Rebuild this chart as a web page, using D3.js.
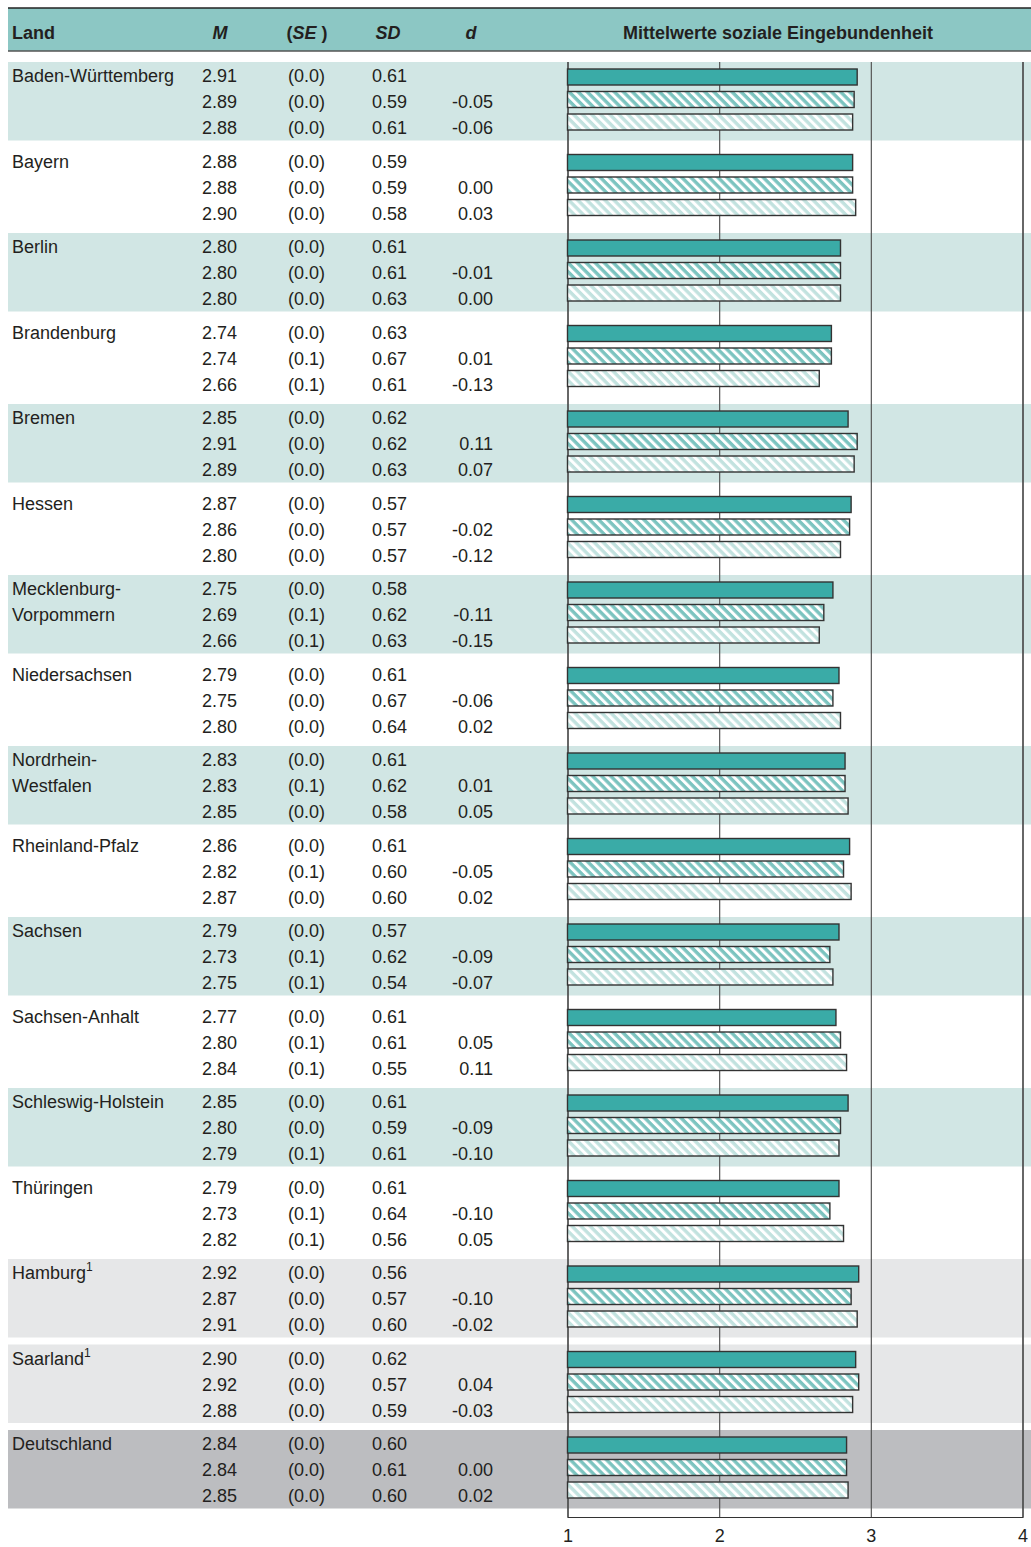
<!DOCTYPE html>
<html><head><meta charset="utf-8">
<script src="https://cdn.jsdelivr.net/npm/d3@7"></script>
<style>
html,body{margin:0;padding:0;background:#fff;}
svg{display:block;font-family:"Liberation Sans",Arial,sans-serif;}
</style></head>
<body>
<svg id="chart" width="1031" height="1547"></svg>
<script>
// ---- data ----
const lands = ["Baden-Württemberg","Bayern","Berlin","Brandenburg","Bremen","Hessen","Mecklenburg-\nVorpommern","Niedersachsen","Nordrhein-\nWestfalen","Rheinland-Pfalz","Sachsen","Sachsen-Anhalt","Schleswig-Holstein","Thüringen","Hamburg","Saarland","Deutschland"];
const footnotes = ["","","","","","","","","","","","","","","1","1",""];
const bandType = ["a","w","a","w","a","w","a","w","a","w","a","w","a","w","g","g","d"];
const meanA = [2.91,2.88,2.80,2.74,2.85,2.87,2.75,2.79,2.83,2.86,2.79,2.77,2.85,2.79,2.92,2.90,2.84];
const meanB = [2.89,2.88,2.80,2.74,2.91,2.86,2.69,2.75,2.83,2.82,2.73,2.80,2.80,2.73,2.87,2.92,2.84];
const meanC = [2.88,2.90,2.80,2.66,2.89,2.80,2.66,2.80,2.85,2.87,2.75,2.84,2.79,2.82,2.91,2.88,2.85];
const seA = [0.0,0.0,0.0,0.0,0.0,0.0,0.0,0.0,0.0,0.0,0.0,0.0,0.0,0.0,0.0,0.0,0.0];
const seB = [0.0,0.0,0.0,0.1,0.0,0.0,0.1,0.0,0.1,0.1,0.1,0.1,0.0,0.1,0.0,0.0,0.0];
const seC = [0.0,0.0,0.0,0.1,0.0,0.0,0.1,0.0,0.0,0.0,0.1,0.1,0.1,0.1,0.0,0.0,0.0];
const sdA = [0.61,0.59,0.61,0.63,0.62,0.57,0.58,0.61,0.61,0.61,0.57,0.61,0.61,0.61,0.56,0.62,0.60];
const sdB = [0.59,0.59,0.61,0.67,0.62,0.57,0.62,0.67,0.62,0.60,0.62,0.61,0.59,0.64,0.57,0.57,0.61];
const sdC = [0.61,0.58,0.63,0.61,0.63,0.57,0.63,0.64,0.58,0.60,0.54,0.55,0.61,0.56,0.60,0.59,0.60];
const dB = [-0.05,0.00,-0.01,0.01,0.11,-0.02,-0.11,-0.06,0.01,-0.05,-0.09,0.05,-0.09,-0.10,-0.10,0.04,0.00];
const dC = [-0.06,0.03,0.00,-0.13,0.07,-0.12,-0.15,0.02,0.05,0.02,-0.07,0.11,-0.10,0.05,-0.02,-0.03,0.02];
const xTicks = [1,2,3,4];
const headers = ["Land","M","SE","SD","d"];
const title = "Mittelwerte soziale Eingebundenheit";

// ---- layout ----
const svg = d3.select("#chart");
const FS = 18;
const bandColor = {a:"#d1e6e4", w:"#ffffff", g:"#e6e7e8", d:"#bcbdc0"};
const x = d3.scaleLinear().domain([1,4]).range([567.5,1022.5]);
const y = d3.scaleLinear().domain([0,lands.length]).range([62, 62 + lands.length*85.5]);
const bandH = 78.5;
const axisY = 1517;

// patterns
const defs = svg.append("defs");
function hatch(id, color){
  const p = defs.append("pattern").attr("id",id).attr("patternUnits","userSpaceOnUse")
    .attr("width",6.4).attr("height",6.4).attr("patternTransform","rotate(45)");
  p.append("rect").attr("width",6.4).attr("height",6.4).attr("fill","#fff");
  p.append("rect").attr("width",6.4).attr("height",3.4).attr("fill",color);
}
hatch("h1","#7cc4c0");
hatch("h2","#c2e2df");

// header
svg.append("rect").attr("x",8).attr("y",8).attr("width",1023).attr("height",43).attr("fill","#8cc7c4");
svg.append("line").attr("x1",8).attr("x2",1031).attr("y1",8).attr("y2",8).attr("stroke","#222").attr("stroke-width",1.5);
svg.append("line").attr("x1",8).attr("x2",1031).attr("y1",51).attr("y2",51).attr("stroke","#555").attr("stroke-width",1.5);
const hy = 39;
const hg = svg.append("g").attr("font-weight","bold").attr("font-size",FS).attr("fill","#231f20");
hg.append("text").attr("x",12).attr("y",hy).text(headers[0]);
hg.append("text").attr("x",220).attr("y",hy).attr("text-anchor","middle").attr("font-style","italic").text(headers[1]);
const seT = hg.append("text").attr("x",307).attr("y",hy).attr("text-anchor","middle");
seT.append("tspan").text("(");
seT.append("tspan").attr("font-style","italic").text(headers[2]+" ");
seT.append("tspan").text(")");
hg.append("text").attr("x",388).attr("y",hy).attr("text-anchor","middle").attr("font-style","italic").text(headers[3]);
hg.append("text").attr("x",471).attr("y",hy).attr("text-anchor","middle").attr("font-style","italic").text(headers[4]);
hg.append("text").attr("x",778).attr("y",hy).attr("text-anchor","middle").text(title);

// bands
svg.append("g").selectAll("rect").data(lands).join("rect")
  .attr("x",8).attr("width",1023)
  .attr("y",(d,i)=>y(i)).attr("height",bandH)
  .attr("fill",(d,i)=>bandColor[bandType[i]]);

// axis with gridlines
const axis = d3.axisBottom(x).tickValues(xTicks).tickFormat(d3.format("d"))
  .tickSize(-(axisY-62)).tickPadding(12);
const ag = svg.append("g").attr("transform",`translate(0,${axisY})`).call(axis);
ag.select(".domain").attr("stroke","#333").attr("stroke-width",1.2);
ag.selectAll(".tick line").attr("stroke","#555").attr("stroke-width",1.2);
ag.selectAll(".tick text").attr("font-size",FS).attr("fill","#231f20")
  .attr("font-family","'Liberation Sans',Arial,sans-serif");

// bars
const series = [
  {vals:meanA, off:7, fill:"#3aaba7"},
  {vals:meanB, off:29.5, fill:"url(#h1)"},
  {vals:meanC, off:52, fill:"url(#h2)"}
];
const bg = svg.append("g");
series.forEach(s=>{
  bg.append("g").selectAll("rect").data(s.vals).join("rect")
    .attr("x",x(1)).attr("y",(d,i)=>y(i)+s.off)
    .attr("width",d=>x(d)-x(1)).attr("height",16)
    .attr("fill",s.fill).attr("stroke","#333").attr("stroke-width",1.4);
});

// table text
const tg = svg.append("g").attr("font-size",FS).attr("fill","#231f20");
const rowOff = [20,46,72];
lands.forEach((name,i)=>{
  const lines = name.split("\n");
  lines.forEach((ln,k)=>{
    const t = tg.append("text").attr("x",12).attr("y",y(i)+rowOff[k]).text(ln);
    if(k===lines.length-1 && footnotes[i]){
      t.append("tspan").attr("font-size",12).attr("dy",-8).text(footnotes[i]);
    }
  });
  const Ms=[meanA[i],meanB[i],meanC[i]], SEs=[seA[i],seB[i],seC[i]], SDs=[sdA[i],sdB[i],sdC[i]], Ds=[null,dB[i],dC[i]];
  for(let r=0;r<3;r++){
    const yy = y(i)+rowOff[r];
    tg.append("text").attr("x",237).attr("y",yy).attr("text-anchor","end").text(Ms[r].toFixed(2));
    tg.append("text").attr("x",288).attr("y",yy).text("("+SEs[r].toFixed(1)+")");
    tg.append("text").attr("x",372).attr("y",yy).text(SDs[r].toFixed(2));
    if(Ds[r]!==null) tg.append("text").attr("x",493).attr("y",yy).attr("text-anchor","end").text(Ds[r].toFixed(2));
  }
});
</script>
</body></html>
